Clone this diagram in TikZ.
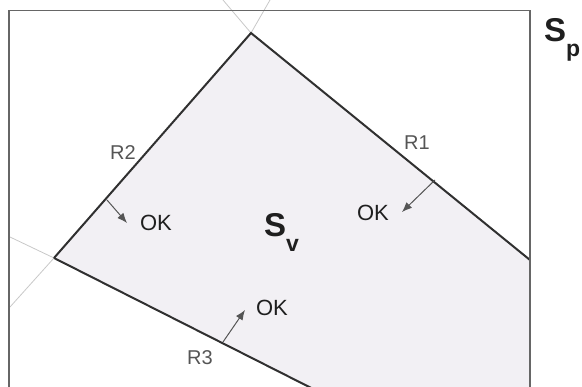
\documentclass[tikz,border=0pt]{standalone}
\usepackage{fontspec}
\setmainfont{Liberation Sans}
\usepackage{tikz}
\usetikzlibrary{arrows.meta,positioning,calc}
\usepackage{xcolor}
\definecolor{frame}{HTML}{666666}
\definecolor{edge}{HTML}{303030}
\definecolor{guide}{HTML}{C8C8C8}
\definecolor{region}{HTML}{F2F0F4}
\definecolor{muted}{HTML}{555555}
\newcommand{\setsub}[1]{\raisebox{-15pt}{\fontsize{23}{23}\selectfont #1}}
\tikzset{
  boundary/.style={draw=edge,line width=2pt},
  outer/.style={draw=frame,line width=1.6pt},
  guideline/.style={draw=guide,line width=0.8pt},
  push/.style={-{Latex[length=10pt,width=8pt]},draw=muted,line width=1pt},
  oklabel/.style={font=\fontsize{22}{22}\selectfont,text=black!88,inner sep=0pt},
  rlabel/.style={font=\fontsize{20}{20}\selectfont,text=muted,inner sep=0pt},
  setlabel/.style={font=\fontsize{33}{33}\selectfont\bfseries,text=black!88,inner sep=0pt,anchor=base west}
}

\begin{document}
\begin{tikzpicture}[x=1pt,y=-1pt]
  \clip (0,0) rectangle (582,387);
  % corners of S_v
  \coordinate (top) at (251,33);
  \coordinate (lft) at (54,258);
  \coordinate (rgt) at (530,260);
  \coordinate (bot) at (335,400);
  \coordinate (low) at (530,400);
  \fill[fill=region] (top) -- (rgt) -- (low) -- (bot) -- (lft) -- cycle;
  % continued constraint lines
  \coordinate (g1) at (223,0);
  \coordinate (g2) at (270,0);
  \coordinate (g3) at (10,237);
  \coordinate (g4) at (10,307);
  \draw[guideline] (g1) -- (top) -- (g2);
  \draw[guideline] (g3) -- (lft) -- (g4);
  \draw[boundary] (lft) -- (top) -- (rgt);
  \draw[boundary] (lft) -- (bot);
  \draw[outer] (9,10.5) rectangle (530,400);
  % constraint names
  \node[rlabel] (r1) at (417,143) {R1};
  \node[rlabel] (r2) at (123,153) {R2};
  \node[rlabel] (r3) at (200,358) {R3};
  \node[oklabel] (ok1) at (156,223) {OK};
  \node[oklabel] (ok2) at (373,213) {OK};
  \node[oklabel] (ok3) at (272,308) {OK};
  % inward arrows
  \coordinate (f1) at (435,180);
  \coordinate (t1) at (402,212);
  \coordinate (f2) at (107,200);
  \coordinate (t2) at (127,223);
  \coordinate (f3) at (223,342);
  \coordinate (t3) at (245,310);
  \draw[push] (f1) -- (t1);
  \draw[push] (f2) -- (t2);
  \draw[push] (f3) -- (t3);
  \node[setlabel] (sv) at (264,237) {S\setsub{v}};
  \node[setlabel] (sp) at (544,42) {S\setsub{p}};
\end{tikzpicture}
\end{document}
